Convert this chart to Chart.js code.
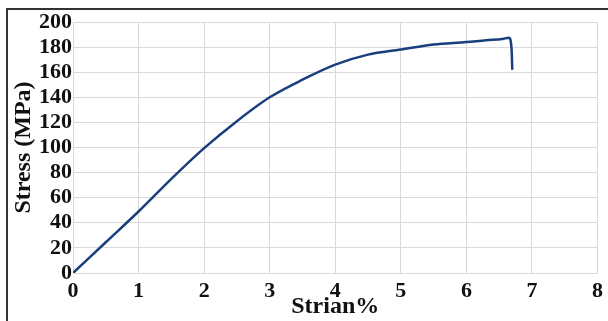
<!DOCTYPE html>
<html>
<head>
<meta charset="utf-8">
<script src="https://cdn.jsdelivr.net/npm/chart.js@4/dist/chart.umd.min.js"></script>
<style>
    html, body { margin: 0; padding: 0; background: #fff; overflow: hidden; }
    #wrap { position: relative; width: 608px; height: 321px; }
    #frame {
        position: absolute; left: 6px; top: 8px; width: 700px; height: 400px;
        border: 2px solid #333; pointer-events: none;
    }
</style>
</head>
<body>
<div id="wrap">
    <canvas id="stress_chart" width="608" height="321"></canvas>
    <div id="frame"></div>
</div>
<script>
// strain (%) vs stress (MPa)
const strain = [0, 0.5, 1, 1.5, 2, 2.5, 3, 3.5, 4, 4.5, 5, 5.5, 6, 6.3, 6.55, 6.65, 6.69, 6.7];
const stress = [0, 24.5, 49, 75, 99.5, 121, 140, 154, 166, 174, 178, 182, 184, 185.5, 186.5, 187.5, 178, 162];

const xTicks = [0, 1, 2, 3, 4, 5, 6, 7, 8];
const yTicks = [0, 20, 40, 60, 80, 100, 120, 140, 160, 180, 200];

const serif = '"Liberation Serif", "DejaVu Serif", serif';
const gridColor = '#d9d9d9';

const points = strain.map((s, i) => ({ x: s, y: stress[i] }));

new Chart(document.querySelector('#stress_chart'), {
    type: 'line',
    data: {
        datasets: [
            {
                label: 'Stress',
                data: points,
                borderColor: '#1a3f7c',
                borderWidth: 2.5,
                pointRadius: 0,
                cubicInterpolationMode: 'monotone',
                fill: false
            }
        ]
    },
    options: {
        responsive: false,
        animation: false,
        layout: {
            padding: { top: 22, right: 9, left: 0, bottom: 0 }
        },
        plugins: {
            legend: { display: false },
            tooltip: { enabled: false }
        },
        scales: {
            x: {
                type: 'linear',
                min: 0,
                max: 8,
                afterBuildTicks: (axis) => { axis.ticks = xTicks.map(v => ({ value: v })); },
                afterFit: (axis) => { axis.height = 48; },
                grid: { color: gridColor, drawTicks: false },
                border: { color: gridColor },
                ticks: {
                    autoSkip: false,
                    maxRotation: 0,
                    padding: 5,
                    color: '#111',
                    font: { family: serif, size: 22, weight: 'bold' }
                },
                title: {
                    display: true,
                    text: 'Strian%',
                    color: '#111',
                    padding: { top: 0, bottom: 0 },
                    font: { family: serif, size: 24, weight: 'bold' }
                }
            },
            y: {
                min: 0,
                max: 200,
                afterBuildTicks: (axis) => { axis.ticks = yTicks.map(v => ({ value: v })); },
                afterFit: (axis) => { axis.width = 73; },
                grid: { color: gridColor, drawTicks: false },
                border: { color: gridColor },
                ticks: {
                    autoSkip: false,
                    padding: 1,
                    color: '#111',
                    font: { family: serif, size: 22, weight: 'bold' }
                },
                title: {
                    display: true,
                    text: 'Stress (MPa)',
                    color: '#111',
                    padding: { top: 9, bottom: 0 },
                    font: { family: serif, size: 24, weight: 'bold' }
                }
            }
        }
    }
});
</script>
</body>
</html>
